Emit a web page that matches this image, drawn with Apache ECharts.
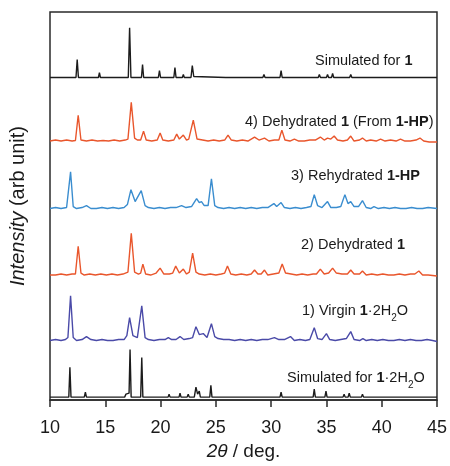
<!DOCTYPE html>
<html>
<head>
<meta charset="utf-8">
<script src="https://cdn.jsdelivr.net/npm/echarts@6/dist/echarts.min.js"></script>
<style>
  html, body { margin: 0; padding: 0; background: #fff; }
  #chart { width: 450px; height: 466px; }
</style>
</head>
<body>
<div id="chart"></div>
<script>
// Powder X-ray diffraction patterns, 2θ in degrees vs. intensity (arbitrary units).
// Each pattern is a list of [2θ, intensity] points; patterns are stacked with vertical offsets.

const simulated1 = [
  [10,0],
  [12.35,0],[12.46,18],[12.57,0],
  [14.38,0],[14.47,5],[14.56,0],
  [17.08,0],[17.2,50],[17.32,0],
  [18.27,0],[18.37,13],[18.47,0],
  [19.8,0],[19.9,7],[20.0,0],
  [21.2,0],[21.3,10],[21.4,0],
  [21.97,0],[22.06,3],[22.15,0],
  [22.75,0],[22.87,12],[23.0,1],[23.1,0],
  [25.9,0],[26.0,2],[26.1,0],
  [28.35,0],[28.45,2],[28.55,0],
  [29.25,0],[29.35,3],[29.45,0],
  [30.8,0],[30.9,7],[31.0,0],
  [31.86,0],[31.96,2],[32.06,0],
  [34.26,0],[34.36,3],[34.46,0],
  [35.0,0],[35.1,3],[35.2,0],
  [35.46,0],[35.56,4],[35.66,0],
  [37.1,0],[37.2,3],[37.3,0],
  [39.8,0],[39.9,2],[40.0,0],
  [41.3,0],[41.4,2],[41.5,0],
  [43.1,0],[43.2,2],[43.3,0],
  [45,0]
];

const dehydratedFromHP = [
  [10,0],[10.5,1],[11,0],[11.5,1],[12.0,0],
  [12.3,0.5],[12.55,26],[12.8,1],
  [13.3,0],[13.8,1],[14.3,0],[14.8,0.5],[15.3,0],[15.8,1],[16.3,0],[16.8,1],
  [17.05,2],[17.35,39],[17.65,3],[17.9,1],
  [18.2,1],[18.46,10],[18.7,1],
  [19.2,0],[19.7,1],[19.96,8],[20.2,1],
  [20.7,0],[21.2,1],[21.46,7],[21.7,2],[22.06,6],[22.35,1],[22.55,2],[22.96,21],[23.3,2],
  [23.8,1],[24.3,0],[24.8,1],[25.3,0],[25.8,1],[26.1,6],[26.4,1],
  [26.9,0],[27.4,1],[27.9,0],[28.5,4],[28.9,1],[29.4,3],[29.8,0],[30.3,1],[30.7,1],[30.97,11],[31.25,1],
  [31.7,0],[32.1,2],[32.5,0],[33.0,0],[33.5,1],[34.0,1],[34.45,4],[34.8,1],[35.1,3],[35.4,2],[35.7,5],[36.0,1],
  [36.5,0],[36.9,1],[37.2,5],[37.5,0],[38.0,1],[38.26,3],[38.6,0],[39.0,1],[39.5,0],[39.9,2],[40.3,0],
  [40.8,1],[41.3,0],[41.7,2],[42.1,0],[42.6,0],[43.1,1],[43.46,3],[43.8,0],[44.3,-1],[45,-1]
];

const rehydratedHP = [
  [10,0],[10.5,1],[11.0,0],[11.5,1],
  [11.65,2],[11.86,37],[12.1,2],[12.4,0],
  [12.9,1],[13.3,3],[13.7,0],[14.2,0],[14.7,1],[15.2,0],[15.7,1],[16.2,0],[16.7,1],
  [17.0,4],[17.32,19],[17.7,7],[18.25,18],[18.6,3],[18.9,1],
  [19.4,0],[19.9,1],[20.4,0],[20.9,1],[21.4,1],[21.9,3],[22.3,1],[22.8,2],
  [23.26,10],[23.5,6],[23.7,7],[23.95,3],[24.3,3],[24.6,30],[24.9,3],[25.2,1],
  [25.7,0],[26.2,1],[26.7,0],[27.2,1],[27.7,0],[28.2,1],[28.7,0],[29.2,1],[29.7,1],[30.25,5],[30.5,2],[30.9,6],[31.2,1],
  [31.7,0],[32.2,1],[32.7,0],[33.2,1],[33.6,2],[33.9,14],[34.2,3],[34.6,1],[35.1,7],[35.4,1],
  [35.9,1],[36.3,2],[36.67,14],[36.95,5],[37.2,7],[37.5,2],[37.9,2],[38.26,8],[38.6,1],[39.0,0],[39.3,2],[39.7,0],
  [40.2,1],[40.7,0],[41.2,1],[41.7,0],[42.2,0],[42.7,1],[43.2,0],[43.7,0],[44.2,1],[45,0]
];

const dehydrated1 = [
  [10,0],[10.5,0],[11,1],[11.5,0],[12.0,1],
  [12.3,1],[12.55,29],[12.8,2],[13.1,0],
  [13.6,1],[14.1,0],[14.6,1],[15.1,0],[15.6,1],[16.1,0],[16.6,1],
  [17.05,3],[17.35,42],[17.65,3],[18.0,1],
  [18.2,2],[18.4,11],[18.65,1],
  [19.1,0],[19.6,2],[19.96,7],[20.3,1],
  [20.8,1],[21.1,2],[21.37,9],[21.7,2],[22.06,6],[22.35,1],[22.6,3],[22.9,22],[23.2,3],[23.5,1],
  [24.0,0],[24.5,1],[25.0,0],[25.5,1],[25.8,2],[26.05,9],[26.35,1],
  [26.8,0],[27.3,1],[27.8,0],[28.2,1],[28.5,5],[28.8,1],[29.1,1],[29.4,5],[29.7,0],[30.2,1],[30.7,2],[31.0,11],[31.3,2],
  [31.8,1],[32.3,0],[32.8,1],[33.3,0],[33.8,1],[34.1,1],[34.45,6],[34.8,1],[35.2,2],[35.56,7],[35.9,2],
  [36.4,1],[36.9,1],[37.2,5],[37.5,1],[38.0,1],[38.26,4],[38.6,0],[39.1,1],[39.6,0],[40.1,1],[40.6,0],
  [41.1,0],[41.6,1],[42.1,0],[42.6,1],[43.0,1],[43.36,4],[43.7,0],[44.2,0],[45,-1]
];

const virginHydrate = [
  [10,0],[10.5,1],[11.0,0],[11.4,1],
  [11.62,3],[11.86,45],[12.1,3],[12.4,0],
  [12.9,1],[13.3,4],[13.7,1],[14.2,0],[14.7,1],[15.2,0],[15.7,0],[16.2,1],[16.7,1],
  [16.95,5],[17.2,23],[17.5,5],[17.9,3],[18.3,35],[18.6,3],[18.9,1],
  [19.4,0],[19.9,1],[20.4,1],[20.7,3],[21.0,1],[21.4,1],[21.76,4],[22.1,1],[22.6,2],[22.9,3],
  [23.2,14],[23.5,6],[23.86,7],[24.2,3],[24.35,4],[24.6,17],[24.9,4],[25.2,2],
  [25.7,1],[26.2,1],[26.7,0],[27.2,1],[27.7,0],[28.2,1],[28.7,0],[29.2,1],[29.7,1],[30.3,3],[30.7,1],[31.2,1],[31.75,4],[32.1,0],
  [32.6,1],[33.1,0],[33.5,1],[33.9,13],[34.2,2],[34.6,1],[35.0,7],[35.3,1],
  [35.8,0],[36.3,1],[36.8,2],[37.2,9],[37.5,1],[38.0,0],[38.3,2],[38.6,0],[39.1,1],[39.6,0],[40.1,1],[40.6,0],
  [41.1,0],[41.6,1],[42.1,0],[42.6,1],[43.1,0],[43.6,0],[44.1,1],[44.6,0],[45,-1]
];

const simulatedHydrate = [
  [10,0],
  [11.7,0],[11.8,30],[11.9,0],
  [13.1,0],[13.2,5],[13.3,0],
  [14.9,0],[14.98,2],[15.06,0],
  [16.75,0],[16.87,3],[17.0,2],[17.15,4],[17.24,48],[17.34,0],
  [18.2,0],[18.3,40],[18.4,0],
  [20.68,0],[20.77,3],[20.86,0],
  [21.67,0],[21.76,4],[21.85,0],
  [22.4,0],[22.5,3],[22.6,0],
  [23.05,0],[23.2,10],[23.35,3],[23.5,6],[23.6,0],
  [24.45,0],[24.55,12],[24.65,0],
  [25.4,0],[25.5,2],[25.6,0],
  [26.9,0],[27.0,2],[27.1,0],
  [28.5,0],[28.6,1.5],[28.7,0],
  [30.2,0],[30.3,2],[30.4,0],
  [30.8,0],[30.9,5],[31.0,0],
  [33.3,0],[33.4,2],[33.5,0],
  [33.8,0],[33.9,8],[34.0,0],
  [34.86,0],[34.96,6],[35.06,0],
  [36.5,0],[36.6,3],[36.7,0],
  [36.96,0],[37.06,4],[37.16,0],
  [38.16,0],[38.26,3],[38.36,0],
  [39.2,0],[39.3,1.5],[39.4,0],
  [42.4,0],[42.5,2],[42.6,0],
  [45,0]
];

// Vertical offsets used to stack the patterns (same units as intensity).
const stackOffsets = [325, 261, 193, 126, 60, 3];

// Pattern labels (rich-text markup: b = bold compound number, s = subscript).
const patternLabels = [
  'Simulated for {b|1}',
  '4) Dehydrated {b|1} (From {b|1-HP})',
  '3) Rehydrated {b|1-HP}',
  '2) Dehydrated {b|1}',
  '1) Virgin {b|1}·2H{s|2}O',
  'Simulated for {b|1}·2H{s|2}O'
];

const patterns = [simulated1, dehydratedFromHP, rehydratedHP, dehydrated1, virginHydrate, simulatedHydrate];
const colors = ['#1c1c1c', '#e9562c', '#3a8dcf', '#e9562c', '#4a4aa8', '#1c1c1c'];

const FONT = '"Liberation Sans", Arial, Helvetica, sans-serif';

// Label placement (left x, vertical centre y) in pixels
const labelPos = [[315, 62], [245, 123], [291, 177], [301, 246], [302, 312], [287, 379]];

const chart = echarts.init(document.getElementById('chart'), null, { renderer: 'canvas' });

const richStyles = {
  b: { fontWeight: 'bold', fontSize: 14.5, fontFamily: FONT, fill: '#1a1a1a' },
  s: { fontSize: 10, fontFamily: FONT, fill: '#1a1a1a', verticalAlign: 'top', padding: [10, 0, 0, 0], lineHeight: 10 }
};

const option = {
  animation: false,
  backgroundColor: '#fff',
  grid: {
    left: 50, right: 11, top: 12, bottom: 63,
    show: true, borderColor: '#2a2a2a', borderWidth: 1.5, backgroundColor: 'transparent'
  },
  xAxis: {
    type: 'value',
    min: 10, max: 45, interval: 5,
    name: '{i|2θ} / deg.',
    nameLocation: 'middle',
    nameGap: 40,
    nameTextStyle: {
      fontSize: 19, color: '#1a1a1a', fontFamily: FONT,
      rich: { i: { fontStyle: 'italic', fontSize: 19, color: '#1a1a1a', fontFamily: FONT } }
    },
    axisLine: { show: true, lineStyle: { color: '#2a2a2a', width: 1.5 } },
    axisTick: { show: true, inside: false, length: 7, lineStyle: { color: '#2a2a2a', width: 1.5 } },
    axisLabel: { fontSize: 18, color: '#1a1a1a', fontFamily: FONT, margin: 19 },
    splitLine: { show: false }
  },
  yAxis: {
    type: 'value',
    min: 0, max: 391,
    name: '{i|Intensity} (arb unit)',
    nameLocation: 'middle',
    nameGap: 22,
    nameTextStyle: {
      fontSize: 20, color: '#1a1a1a', fontFamily: FONT,
      rich: { i: { fontStyle: 'italic', fontSize: 20, color: '#1a1a1a', fontFamily: FONT } }
    },
    axisLine: { show: false },
    axisTick: { show: false },
    axisLabel: { show: false },
    splitLine: { show: false }
  },
  series: patterns.map((pts, k) => ({
    type: 'line',
    showSymbol: false,
    symbol: 'none',
    silent: true,
    lineStyle: { color: colors[k], width: 1.4 },
    data: pts.map(p => [p[0], p[1] + stackOffsets[k]])
  })),
  graphic: patternLabels.map((txt, k) => ({
    type: 'text',
    left: labelPos[k][0],
    top: labelPos[k][1] - 9,
    style: {
      text: txt,
      fontSize: 14.5,
      fontFamily: FONT,
      fill: '#1a1a1a',
      rich: richStyles
    }
  }))
};

chart.setOption(option);
</script>
</body>
</html>
